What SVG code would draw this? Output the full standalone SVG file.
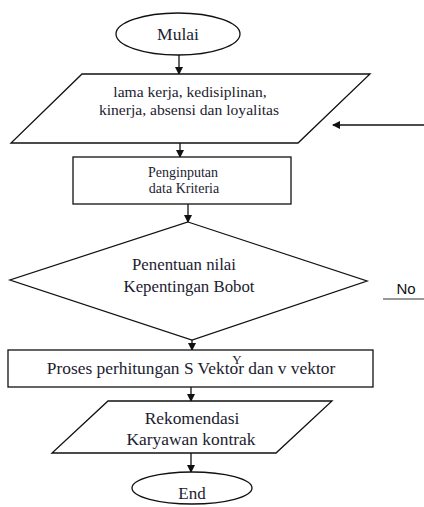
<svg xmlns="http://www.w3.org/2000/svg" width="424" height="507" viewBox="0 0 424 507">
<style>
.s{fill:#fff;stroke:#111;stroke-width:1.3}
.t{font-family:"Liberation Serif","Times New Roman",serif;fill:#1c1c30;text-anchor:middle}
.c{stroke:#111;stroke-width:1.3;fill:none}
</style>
<defs>
<marker id="ah" markerWidth="8" markerHeight="8" refX="7" refY="4" orient="auto" markerUnits="userSpaceOnUse">
<path d="M0,0 L8,4 L0,8 Z" fill="#111"/>
</marker>
</defs>
<rect width="424" height="507" fill="#fff"/>
<g id="connectors">
<line class="c" x1="179" y1="55" x2="179" y2="74" marker-end="url(#ah)"/>
<line class="c" x1="180" y1="143" x2="180" y2="157" marker-end="url(#ah)"/>
<line class="c" x1="188" y1="204" x2="188" y2="222" marker-end="url(#ah)"/>
<line class="c" x1="192" y1="339" x2="192" y2="350" marker-end="url(#ah)"/>
<line class="c" x1="191" y1="387" x2="191" y2="401" marker-end="url(#ah)"/>
<line class="c" x1="191" y1="453" x2="191" y2="472" marker-end="url(#ah)"/>
<line class="c" x1="424" y1="125" x2="333" y2="125" marker-end="url(#ah)"/>
<line x1="383" y1="299" x2="424" y2="299" stroke="#777" stroke-width="1.3"/>
<text x="406" y="294" font-family="'Liberation Sans',Arial,sans-serif" font-size="15" fill="#111" text-anchor="middle">No</text>
</g>
<g id="mulai">
<ellipse class="s" cx="178" cy="34" rx="62" ry="21"/>
<text class="t" x="178" y="40" font-size="17.5">Mulai</text>
</g>
<g id="input">
<polygon class="s" points="82,74 370,74 298,143 11,143"/>
<text class="t" x="190" y="97" font-size="15.6">lama kerja, kedisiplinan,</text>
<text class="t" x="189" y="115" font-size="15.6">kinerja, absensi dan loyalitas</text>
</g>
<g id="penginputan">
<rect class="s" x="73" y="157" width="218" height="47"/>
<text class="t" x="183" y="177" font-size="14">Penginputan</text>
<text class="t" x="184" y="193" font-size="14">data Kriteria</text>
</g>
<g id="penentuan">
<polygon class="s" points="188,222 367,281 192,340 10,280"/>
<text class="t" x="184" y="270" font-size="16.8">Penentuan nilai</text>
<text class="t" x="189" y="292" font-size="16.8">Kepentingan Bobot</text>
</g>
<g id="proses">
<rect class="s" x="8" y="350" width="365" height="37"/>
<text class="t" x="191" y="374" font-size="17.4">Proses perhitungan S Vektor dan v vektor</text>
<text class="t" x="237" y="364" font-size="13">Y</text>
</g>
<g id="rekomendasi">
<polygon class="s" points="108,401 332,401 276,453 52,453"/>
<text class="t" x="192" y="424" font-size="17.4">Rekomendasi</text>
<text class="t" x="191" y="445" font-size="17.4">Karyawan kontrak</text>
</g>
<g id="end">
<ellipse class="s" cx="192" cy="488" rx="60" ry="16"/>
<text class="t" x="192" y="499" font-size="17">End</text>
</g>
</svg>
